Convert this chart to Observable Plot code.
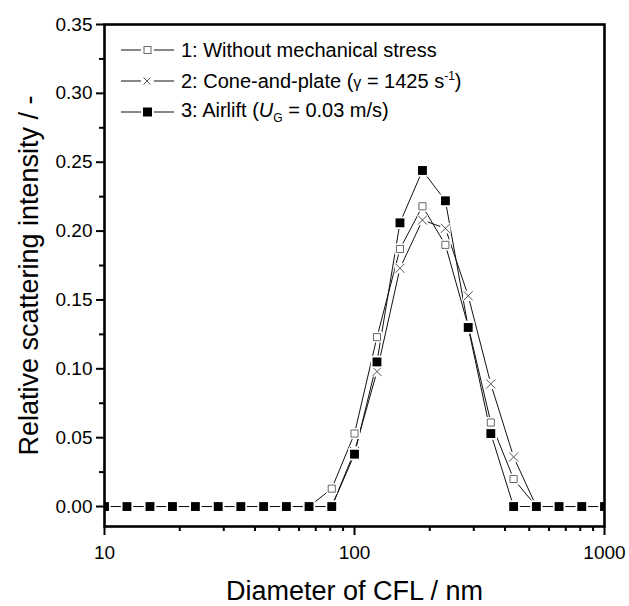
<!DOCTYPE html>
<html><head><meta charset="utf-8">
<script src="https://cdn.jsdelivr.net/npm/d3@7"></script>
<script src="https://cdn.jsdelivr.net/npm/@observablehq/plot@0.6"></script>
<style>
body{margin:0;background:#fff;}
#wrap{position:relative;width:629px;height:606px;font-family:"Liberation Sans",Arial,sans-serif;}
#legend{position:absolute;left:117px;top:34px;font-size:20px;color:#000;line-height:1;}
.row{display:flex;align-items:center;height:31px;white-space:nowrap;}
.row svg{margin-right:4px;}
sub{font-size:12px;vertical-align:-5px;}
sup{font-size:12px;vertical-align:8px;}
.g{font-size:16px;}
</style></head>
<body>
<div id="wrap"><div id="chart"></div><div id="legend"></div></div>
<script>
const diameters = [10, 12.3, 15.2, 18.7, 23.1, 28.5, 35.1, 43.3, 53.4, 65.8, 81.1, 100, 123, 152, 187, 231, 285, 351, 433, 534, 658, 811, 1000];
const withoutStress = [0,0,0,0,0,0,0,0,0,0,0.013,0.053,0.123,0.187,0.218,0.190,0.131,0.061,0.020,0,0,0,0];
const conePlate = [0,0,0,0,0,0,0,0,0,0,0,0.040,0.098,0.173,0.208,0.202,0.153,0.089,0.036,0,0,0,0];
const airlift = [0,0,0,0,0,0,0,0,0,0,0,0.038,0.105,0.206,0.244,0.222,0.130,0.053,0,0,0,0,0];
const seriesLabels = [
  "1: Without mechanical stress",
  "2: Cone-and-plate (<span class='g'>γ</span> = 1425 s<sup>-1</sup>)",
  "3: Airlift (<i>U</i><sub>G</sub> = 0.03 m/s)"
];
const yMajorTicks = [0, 0.05, 0.10, 0.15, 0.20, 0.25, 0.30, 0.35];
const yMinorTicks = [0.025, 0.075, 0.125, 0.175, 0.225, 0.275, 0.325];
const xMajorTicks = [10, 100, 1000];
const xMinorTicks = [20, 30, 40, 50, 60, 70, 80, 90, 200, 300, 400, 500, 600, 700, 800, 900];
const xTitle = "Diameter of CFL / nm";
const yTitle = "Relative scattering intensity / -";

const toRows = arr => diameters.map((d, i) => ({d, v: arr[i]}));
const s1 = toRows(withoutStress), s2 = toRows(conePlate), s3 = toRows(airlift);

const lineOpts = {x: "d", y: "v", stroke: "#111", strokeWidth: 1, clip: true};
const chart = Plot.plot({
  width: 629, height: 606,
  marginLeft: 104, marginRight: 25, marginTop: 24, marginBottom: 80,
  style: {fontFamily: "'Liberation Sans', Arial, sans-serif", background: "#fff", color: "#000"},
  x: {type: "log", domain: [10, 1000], axis: null},
  y: {domain: [-0.0145, 0.35], axis: null},
  marks: [
    Plot.line(s1, lineOpts),
    Plot.line(s2, lineOpts),
    Plot.line(s3, lineOpts),
    Plot.dot(s1, {x: "d", y: "v", symbol: "square", r: 6.2, fill: "#fff", stroke: "none", clip: true}),
    Plot.dot(s1, {x: "d", y: "v", symbol: "square", r: 4, fill: "#fff", stroke: "#666", strokeWidth: 1, clip: true}),
    Plot.dot(s2, {x: "d", y: "v", symbol: "square", r: 5.8, fill: "#fff", stroke: "none", clip: true}),
    Plot.dot(s2, {x: "d", y: "v", symbol: "times", r: 4.2, stroke: "#555", strokeWidth: 1, clip: true}),
    Plot.dot(s3, {x: "d", y: "v", symbol: "square", r: 7, fill: "#fff", stroke: "none", clip: true}),
    Plot.dot(s3, {x: "d", y: "v", symbol: "square", r: 5, fill: "#000", stroke: "none", clip: true}),
    Plot.axisY({ticks: yMajorTicks, tickSize: 8, tickPadding: 4, strokeWidth: 2, tickFormat: d3.format(".2f"), fontSize: 19, label: null}),
    Plot.axisY({ticks: yMinorTicks, tickSize: 5, strokeWidth: 2, tickFormat: () => "", label: null}),
    Plot.axisX({ticks: xMajorTicks, tickSize: 9, tickPadding: 10, strokeWidth: 2, tickFormat: d => String(d), fontSize: 19, label: null}),
    Plot.axisX({ticks: xMinorTicks, tickSize: 5, strokeWidth: 2, tickFormat: () => "", label: null}),
    Plot.frame({stroke: "#000", strokeWidth: 2.6}),
    Plot.text([xTitle], {frameAnchor: "bottom", dy: 73, fontSize: 27, text: d => d}),
    Plot.text([yTitle], {frameAnchor: "left", dx: -75, rotate: -90, textAnchor: "middle", fontSize: 27, text: d => d})
  ]
});
document.getElementById("chart").appendChild(chart);

function sample(kind) {
  const ns = "http://www.w3.org/2000/svg";
  const svg = document.createElementNS(ns, "svg");
  svg.setAttribute("width", 60); svg.setAttribute("height", 20);
  const add = (tag, attrs) => { const e = document.createElementNS(ns, tag); for (const k in attrs) e.setAttribute(k, attrs[k]); svg.appendChild(e); };
  add("line", {x1: 4, x2: 24, y1: 10, y2: 10, stroke: "#111", "stroke-width": 1});
  add("line", {x1: 37, x2: 57, y1: 10, y2: 10, stroke: "#111", "stroke-width": 1});
  if (kind === 0) add("rect", {x: 27, y: 6.5, width: 7, height: 7, fill: "#fff", stroke: "#666", "stroke-width": 1});
  if (kind === 1) add("path", {d: "M26.5,6.5L33.5,13.5M33.5,6.5L26.5,13.5", stroke: "#555", "stroke-width": 1});
  if (kind === 2) add("rect", {x: 26, y: 5.5, width: 9, height: 9, fill: "#000"});
  return svg;
}
const legend = document.getElementById("legend");
seriesLabels.forEach((lab, i) => {
  const row = document.createElement("div");
  row.className = "row";
  row.appendChild(sample(i));
  const span = document.createElement("span");
  span.innerHTML = lab;
  row.appendChild(span);
  legend.appendChild(row);
});
</script>
</body></html>
